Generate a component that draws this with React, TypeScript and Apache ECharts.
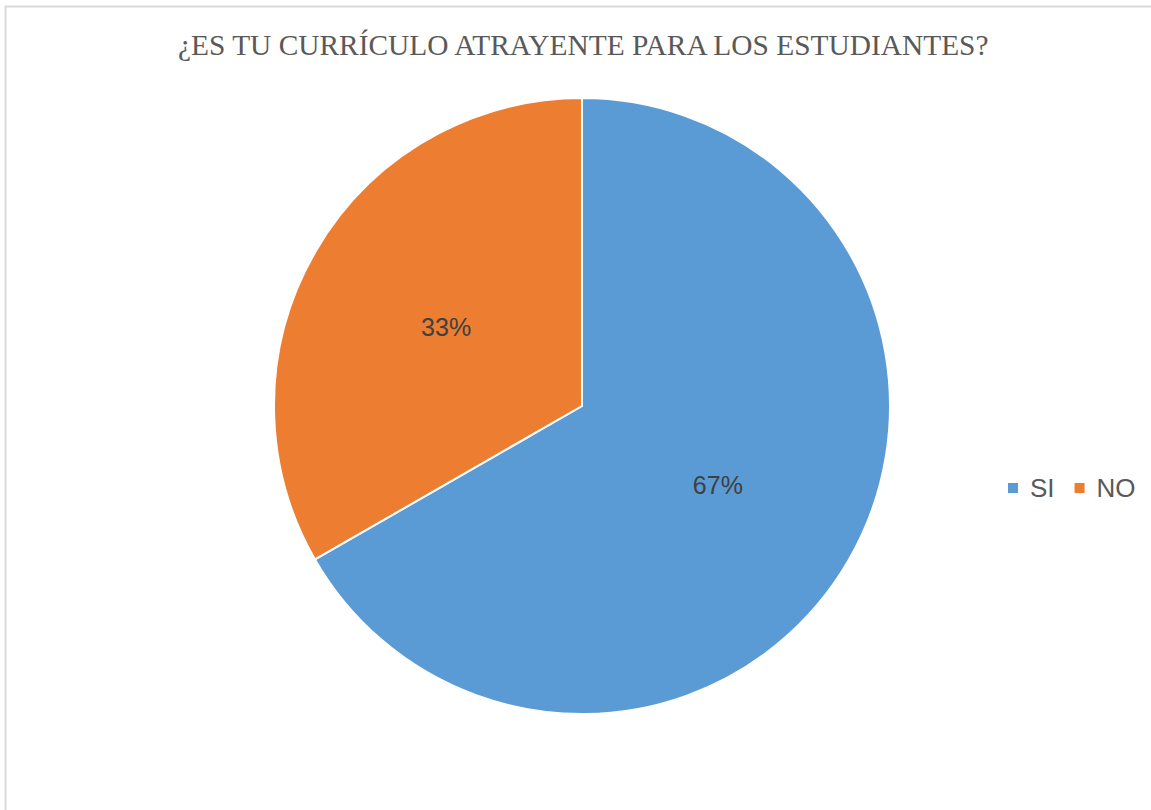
import React, { useEffect, useRef } from "react";
import * as echarts from "echarts";

const categories = ["SI", "NO"];
const values = [66.7, 33.3];
const colors = ["#5B9BD5", "#ED7D31"];
const titleText = "¿ES TU CURRÍCULO ATRAYENTE PARA LOS ESTUDIANTES?";

export default function App() {
  const ref = useRef<HTMLDivElement>(null);
  useEffect(() => {
    if (!ref.current) return;
    const chart = echarts.init(ref.current, undefined, { renderer: "svg" });
    chart.setOption({
      animation: false,
      backgroundColor: "#ffffff",
      title: {
        text: titleText,
        left: 173,
        top: 25,
        textStyle: {
          fontFamily: "Liberation Serif",
          fontWeight: "normal",
          fontSize: 29.4,
          color: "#595959",
        },
      },
      graphic: [
        {
          type: "rect",
          shape: { x: 5.5, y: 6.5, width: 1300, height: 1000 },
          style: { fill: "none", stroke: "#d9d9d9", lineWidth: 2 },
          silent: true,
        },
      ],
      legend: {
        orient: "horizontal",
        left: 1001,
        top: 470,
        icon: "rect",
        itemWidth: 12,
        itemHeight: 12,
        itemGap: 18,
        textStyle: {
          fontFamily: "Liberation Sans",
          fontSize: 26,
          color: "#595959",
          padding: [0, 0, 0, 6],
        },
        data: categories,
      },
      series: [
        {
          type: "pie",
          center: [582, 406],
          radius: 308,
          startAngle: 90,
          clockwise: true,
          itemStyle: { borderColor: "#ffffff", borderWidth: 2 },
          label: {
            position: "inside",
            formatter: (p: any) => Math.round(p.percent) + "%",
            fontFamily: "Liberation Sans",
            fontSize: 25,
            color: "#404040",
          },
          labelLine: { show: false },
          data: categories.map((c, i) => ({
            name: c,
            value: values[i],
            itemStyle: { color: colors[i] },
          })),
        },
      ],
    });
    return () => chart.dispose();
  }, []);
  return (
    <div
      ref={ref}
      style={{ position: "absolute", left: 0, top: 0, width: 1151, height: 810 }}
    />
  );
}
